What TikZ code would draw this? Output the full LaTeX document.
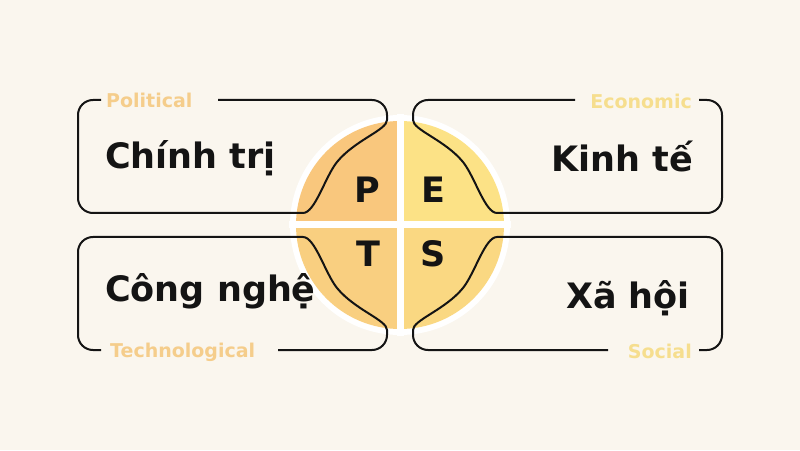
\documentclass[tikz,border=0pt]{standalone}
\usepackage{fontspec}
\setmainfont{DejaVu Sans}
\usepackage{tikz}
\definecolor{bgcream}{HTML}{FAF6EE}
\definecolor{quadP}{HTML}{F9C77D}
\definecolor{quadE}{HTML}{FCE286}
\definecolor{quadT}{HTML}{F9CF80}
\definecolor{quadS}{HTML}{FAD882}
\definecolor{tagorange}{HTML}{F5CD8B}
\definecolor{tagyellow}{HTML}{F6DE8E}
\definecolor{inkblack}{HTML}{141414}
\tikzset{
  boxline/.style={line width=2pt,draw=inkblack},
  pestletter/.style={font=\fontsize{35}{40}\selectfont\bfseries,text=inkblack,inner sep=0pt},
  bigtext/.style={font=\fontsize{35}{42}\selectfont\bfseries,text=inkblack,inner sep=0pt},
  tag/.style={font=\fontsize{19}{24}\selectfont\bfseries,inner sep=0pt}
}
\newcommand{\pestframe}[1]{%
  \draw[boxline] (#1,125) -- (-28,125) arc (90:0:15) -- (-13,105)
    .. controls (-13,95) and (-45,85) .. (-63,63)
    .. controls (-75,48) and (-85,12) .. (-97,12)
    -- (-307,12) arc (270:180:15) -- (-322,110) arc (180:90:15) -- (-299,125);}
\begin{document}
\begin{tikzpicture}[x=1pt,y=1pt]
  \fill[bgcream](0,0)rectangle(800,450);
  \useasboundingbox(0,0)rectangle(800,450);
  \fill[white](400,225)circle(110);
  \fill[quadP](400,225)--(296,225)arc(180:90:104)--cycle;
  \fill[quadE](400,225)--(400,329)arc(90:0:104)--cycle;
  \fill[quadS](400,225)--(504,225)arc(0:-90:104)--cycle;
  \fill[quadT](400,225)--(400,121)arc(270:180:104)--cycle;
  \draw[white,line width=7pt](400,114)--(400,336) (289,225)--(511,225);
  \begin{scope}[shift={(400,225)}]
    \pestframe{-182}
    \begin{scope}[xscale=-1]\pestframe{-175}\end{scope}
    \begin{scope}[yscale=-1]\pestframe{-122}\end{scope}
    \begin{scope}[scale=-1]\pestframe{-208}\end{scope}
  \end{scope}
  \node[pestletter](p)at(367,260){P};
  \node[pestletter](e)at(433,260){E};
  \node[pestletter](t)at(368,196){T};
  \node[pestletter](s)at(433,196){S};
  \node[bigtext,anchor=base west](chinhtri)at(105,281){Chính trị};
  \node[bigtext,anchor=base east](kinhte)at(693,278){Kinh tế};
  \node[bigtext,anchor=base west](congnghe)at(105,148){Công nghệ};
  \node[bigtext,anchor=base east](xahoi)at(690,142){Xã hội};
  \node[tag,text=tagorange,anchor=base west](political)at(106,342){Political};
  \node[tag,text=tagorange,anchor=base west](technological)at(110,93){Technological};
  \node[tag,text=tagyellow,anchor=base east](economic)at(692,341){Economic};
  \node[tag,text=tagyellow,anchor=base east](social)at(692,92){Social};
\end{tikzpicture}
\end{document}
